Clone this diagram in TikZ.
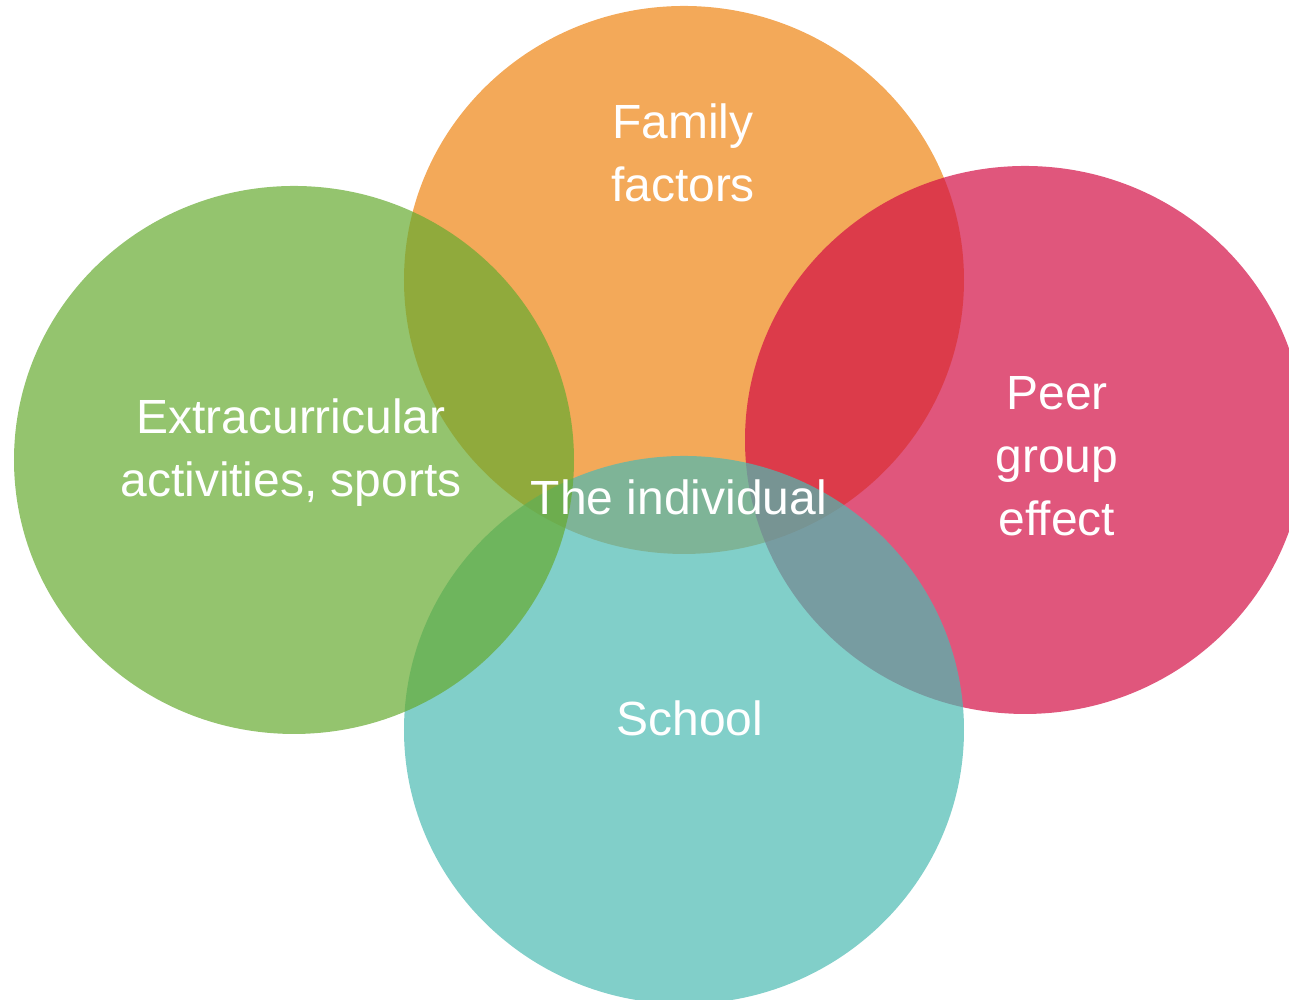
\documentclass[tikz,border=0pt]{standalone}
\usepackage{fontspec}
\setmainfont{Liberation Sans}
\usetikzlibrary{shapes.geometric}
\definecolor{famorange}{RGB}{238,132,19}
\definecolor{peerpink}{RGB}{211,14,68}
\definecolor{schoolteal}{RGB}{76,186,178}
\definecolor{extragreen}{RGB}{102,171,48}
\begin{document}
\begin{tikzpicture}[
	blob/.style={ellipse, minimum width=5.6cm, minimum height=5.48cm, inner sep=0pt, fill opacity=0.7},
	lbl/.style={text=white, align=center, font=\fontsize{13.65}{17.9}\selectfont}]
	\useasboundingbox (0, 0) rectangle (12.89, 10);
	\clip (0, 0) rectangle (12.89, 10);

	% the four circles of influence
	\node[blob, fill=famorange] (family) at (6.84, 7.20) {};
	\node[blob, fill=peerpink] (peer) at (10.25, 5.60) {};
	\node[blob, fill=schoolteal] (school) at (6.84, 2.70) {};
	\node[blob, fill=extragreen] (extra) at (2.94, 5.40) {};

	% labels
	\node[lbl] (familytext) at (6.83, 8.47) {Family\\factors};
	\node[lbl] (extratext) at (2.91, 5.47) {Extracurricular\\activities, sports};
	\node[lbl] (peertext) at (10.57, 5.44) {Peer\\group\\effect};
	\node[lbl] (schooltext) at (6.90, 2.82) {School};
	\node[lbl] (indiv) at (6.79, 5.03) {The individual};
\end{tikzpicture}
\end{document}
